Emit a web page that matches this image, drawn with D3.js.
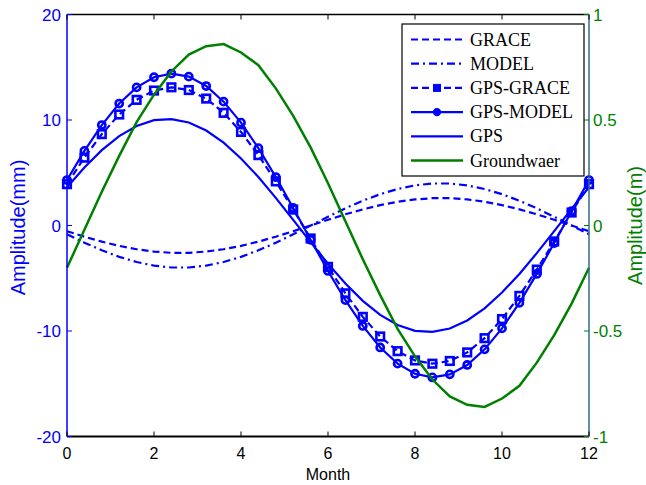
<!DOCTYPE html>
<html>
<head>
<meta charset="utf-8">
<script src="https://cdn.jsdelivr.net/npm/d3@7"></script>
<style>
    body { margin: 0; background: #fff; }
    svg { display: block; }
</style>
</head>
<body>
<div id="chart"></div>
<script>

//Months (x values), one every 0.4 month
var months = [0, 0.4, 0.8, 1.2, 1.6, 2.0, 2.4, 2.8, 3.2, 3.6, 4.0, 4.4, 4.8, 5.2, 5.6, 6.0,
              6.4, 6.8, 7.2, 7.6, 8.0, 8.4, 8.8, 9.2, 9.6, 10.0, 10.4, 10.8, 11.2, 11.6, 12.0];

//Left axis series (mm)
var grace = [-0.54, -1.06, -1.53, -1.93, -2.25, -2.47, -2.59, -2.59, -2.47, -2.25, -1.93, -1.53, -1.06, -0.54, 0,
             0.54, 1.06, 1.53, 1.93, 2.25, 2.47, 2.59, 2.59, 2.47, 2.25, 1.93, 1.53, 1.06, 0.54, 0, -0.54];
var model = [-0.83, -1.63, -2.35, -2.97, -3.46, -3.80, -3.98, -3.98, -3.80, -3.46, -2.97, -2.35, -1.63, -0.83, 0,
             0.83, 1.63, 2.35, 2.97, 3.46, 3.80, 3.98, 3.98, 3.80, 3.46, 2.97, 2.35, 1.63, 0.83, 0, -0.83];
var gpsGrace = [3.92, 6.43, 8.66, 10.52, 11.91, 12.79, 13.10, 12.84, 12.03, 10.68, 8.87, 6.67, 4.18, 1.51, -1.23,
                -3.92, -6.43, -8.66, -10.52, -11.91, -12.79, -13.10, -12.84, -12.03, -10.68, -8.87, -6.67, -4.18, -1.51, 1.23, 3.92];
var gpsModel = [4.31, 7.07, 9.52, 11.56, 13.09, 14.05, 14.40, 14.11, 13.22, 11.74, 9.75, 7.33, 4.59, 1.66, -1.35,
                -4.31, -7.07, -9.52, -11.56, -13.09, -14.05, -14.40, -14.11, -13.22, -11.74, -9.75, -7.33, -4.59, -1.66, 1.35, 4.31];
var gps = [3.62, 5.50, 7.14, 8.47, 9.43, 9.98, 10.09, 9.76, 9.00, 7.85, 6.35, 4.59, 2.62, 0.53, -1.58,
           -3.62, -5.50, -7.14, -8.47, -9.43, -9.98, -10.09, -9.76, -9.00, -7.85, -6.35, -4.59, -2.62, -0.53, 1.58, 3.62];

//Right axis series (m)
var groundwater = [-0.20, -0.02, 0.16, 0.33, 0.49, 0.62, 0.73, 0.81, 0.85, 0.86, 0.82, 0.76, 0.65, 0.52, 0.37,
                   0.20, 0.02, -0.16, -0.33, -0.49, -0.62, -0.73, -0.81, -0.85, -0.86, -0.82, -0.76, -0.65, -0.52, -0.37, -0.20];

//Ticks
var xTicks = [0, 2, 4, 6, 8, 10, 12];
var yLeftTicks = [-20, -10, 0, 10, 20];
var yRightTicks = [-1, -0.5, 0, 0.5, 1];

//Size and margins
var width = 646, height = 485;
var margin = {top: 14.5, right: 57, bottom: 48.5, left: 67};
var blue = "#0000ff", green = "#008000";

var svg = d3.select("#chart")
    .append("svg")
    .attr("width", width)
    .attr("height", height)
    .style("font-family", "'Liberation Sans', Arial, sans-serif");

//Scales
var xScale = d3.scaleLinear()
    .domain([0, 12])
    .range([margin.left, width - margin.right]);

var yLeft = d3.scaleLinear()
    .domain([-20, 20])
    .range([height - margin.bottom, margin.top]);

var yRight = d3.scaleLinear()
    .domain([-1, 1])
    .range([height - margin.bottom, margin.top]);

//Series definitions
var series = [
    {name: "GRACE", values: grace, dash: "7,4", marker: null},
    {name: "MODEL", values: model, dash: "8,4,2,4", marker: null},
    {name: "GPS-GRACE", values: gpsGrace, dash: "7,4", marker: "square"},
    {name: "GPS-MODEL", values: gpsModel, dash: null, marker: "circle"},
    {name: "GPS", values: gps, dash: null, marker: null}
];

var lineLeft = d3.line()
    .x((d, i) => xScale(months[i]))
    .y(d => yLeft(d));

var lineRight = d3.line()
    .x((d, i) => xScale(months[i]))
    .y(d => yRight(d));

////////////////////// LINES //////////////////////

var lines = svg.append("g").attr("class", "lines");

series.forEach(function(s) {
    lines.append("path")
        .datum(s.values)
        .attr("d", lineLeft)
        .attr("fill", "none")
        .attr("stroke", blue)
        .attr("stroke-width", 2.2)
        .attr("stroke-dasharray", s.dash);

    if (s.marker == "circle") {
        lines.selectAll("circle.m")
            .data(s.values)
            .enter()
            .append("circle")
                .attr("cx", (d, i) => xScale(months[i]))
                .attr("cy", d => yLeft(d))
                .attr("r", 3.6)
                .attr("fill", "none")
                .attr("stroke", blue)
                .attr("stroke-width", 2.6);
    }
    if (s.marker == "square") {
        lines.selectAll("rect.m")
            .data(s.values)
            .enter()
            .append("rect")
                .attr("x", (d, i) => xScale(months[i]) - 3.8)
                .attr("y", d => yLeft(d) - 3.8)
                .attr("width", 7.6)
                .attr("height", 7.6)
                .attr("fill", "none")
                .attr("stroke", blue)
                .attr("stroke-width", 2.6);
    }
});

//Groundwater on right axis
lines.append("path")
    .datum(groundwater)
    .attr("d", lineRight)
    .attr("fill", "none")
    .attr("stroke", green)
    .attr("stroke-width", 2.5);

////////////////////// AXES //////////////////////

var axes = svg.append("g").attr("class", "axes");
var x0 = margin.left, x1 = width - margin.right;
var y0 = height - margin.bottom, y1 = margin.top;

//Frame
axes.append("line").attr("x1", x0).attr("x2", x1).attr("y1", y1).attr("y2", y1)
    .attr("stroke", "#000").attr("stroke-width", 1.5);
axes.append("line").attr("x1", x0).attr("x2", x1).attr("y1", y0).attr("y2", y0)
    .attr("stroke", "#000").attr("stroke-width", 2);
axes.append("line").attr("x1", x0).attr("x2", x0).attr("y1", y1).attr("y2", y0)
    .attr("stroke", blue).attr("stroke-width", 1.5);
axes.append("line").attr("x1", x1).attr("x2", x1).attr("y1", y1).attr("y2", y0)
    .attr("stroke", "#2f6a8c").attr("stroke-width", 1.5);

//X ticks, bottom and top, pointing inward
axes.selectAll("line.xt")
    .data(xTicks)
    .enter()
    .append("line")
        .attr("x1", d => xScale(d)).attr("x2", d => xScale(d))
        .attr("y1", y0).attr("y2", y0 - 5)
        .attr("stroke", "#000").attr("stroke-width", 1);

axes.selectAll("line.xtt")
    .data(xTicks)
    .enter()
    .append("line")
        .attr("x1", d => xScale(d)).attr("x2", d => xScale(d))
        .attr("y1", y1).attr("y2", y1 + 5)
        .attr("stroke", "#000").attr("stroke-width", 1);

axes.selectAll("text.xl")
    .data(xTicks)
    .enter()
    .append("text")
        .attr("x", d => xScale(d))
        .attr("y", y0 + 22)
        .attr("text-anchor", "middle")
        .style("font-size", "16px")
        .style("fill", "#000")
        .text(d => d);

//Left ticks
axes.selectAll("line.yl")
    .data(yLeftTicks)
    .enter()
    .append("line")
        .attr("x1", x0).attr("x2", x0 + 5)
        .attr("y1", d => yLeft(d)).attr("y2", d => yLeft(d))
        .attr("stroke", blue).attr("stroke-width", 1);

axes.selectAll("text.yl")
    .data(yLeftTicks)
    .enter()
    .append("text")
        .attr("x", x0 - 6)
        .attr("y", d => yLeft(d) + 6)
        .attr("text-anchor", "end")
        .style("font-size", "17px")
        .style("fill", blue)
        .text(d => d);

//Right ticks
axes.selectAll("line.yr")
    .data(yRightTicks)
    .enter()
    .append("line")
        .attr("x1", x1).attr("x2", x1 - 5)
        .attr("y1", d => yRight(d)).attr("y2", d => yRight(d))
        .attr("stroke", green).attr("stroke-width", 1);

axes.selectAll("text.yr")
    .data(yRightTicks)
    .enter()
    .append("text")
        .attr("x", x1 + 4)
        .attr("y", d => yRight(d) + 6)
        .attr("text-anchor", "start")
        .style("font-size", "17px")
        .style("fill", green)
        .text(d => d);

//Axis titles
axes.append("text")
    .attr("x", (x0 + x1) / 2)
    .attr("y", 480)
    .attr("text-anchor", "middle")
    .style("font-size", "16px")
    .style("fill", "#000")
    .text("Month");

axes.append("text")
    .attr("transform", "translate(25," + ((y0 + y1) / 2 + 2) + ") rotate(-90)")
    .attr("text-anchor", "middle")
    .style("font-size", "20px")
    .style("fill", blue)
    .text("Amplitude(mm)");

axes.append("text")
    .attr("transform", "translate(642," + ((y0 + y1) / 2) + ") rotate(-90)")
    .attr("text-anchor", "middle")
    .style("font-size", "20px")
    .style("fill", green)
    .text("Amplitude(m)");

////////////////////// LEGEND //////////////////////

var legendItems = series.map(s => ({name: s.name, color: blue, dash: s.dash, marker: s.marker}))
    .concat([{name: "Groundwaer", color: green, dash: null, marker: null}]);

var legend = svg.append("g").attr("class", "legend");

legend.append("rect")
    .attr("x", 402).attr("y", 24)
    .attr("width", 182).attr("height", 152)
    .attr("fill", "#fff")
    .attr("stroke", "#000")
    .attr("stroke-width", 1.2);

var rows = legend.selectAll("g.row")
    .data(legendItems)
    .enter()
    .append("g")
        .attr("transform", (d, i) => "translate(0," + (39.5 + i * 24.2) + ")");

rows.append("line")
    .attr("x1", 411).attr("x2", 463)
    .attr("y1", 0).attr("y2", 0)
    .attr("stroke", d => d.color)
    .attr("stroke-width", d => d.color == green ? 2.5 : 2.2)
    .attr("stroke-dasharray", d => d.dash);

rows.filter(d => d.marker == "circle")
    .append("circle")
        .attr("cx", 437).attr("cy", 0).attr("r", 3.4)
        .attr("fill", blue).attr("stroke", blue).attr("stroke-width", 1.5);

rows.filter(d => d.marker == "square")
    .append("rect")
        .attr("x", 433.5).attr("y", -3.5).attr("width", 7).attr("height", 7)
        .attr("fill", blue).attr("stroke", blue).attr("stroke-width", 1);

rows.append("text")
    .attr("x", 470)
    .attr("y", 6)
    .style("font-family", "'Liberation Serif', 'Times New Roman', serif")
    .style("font-size", "18px")
    .style("fill", "#000")
    .text(d => d.name);

</script>
</body>
</html>
